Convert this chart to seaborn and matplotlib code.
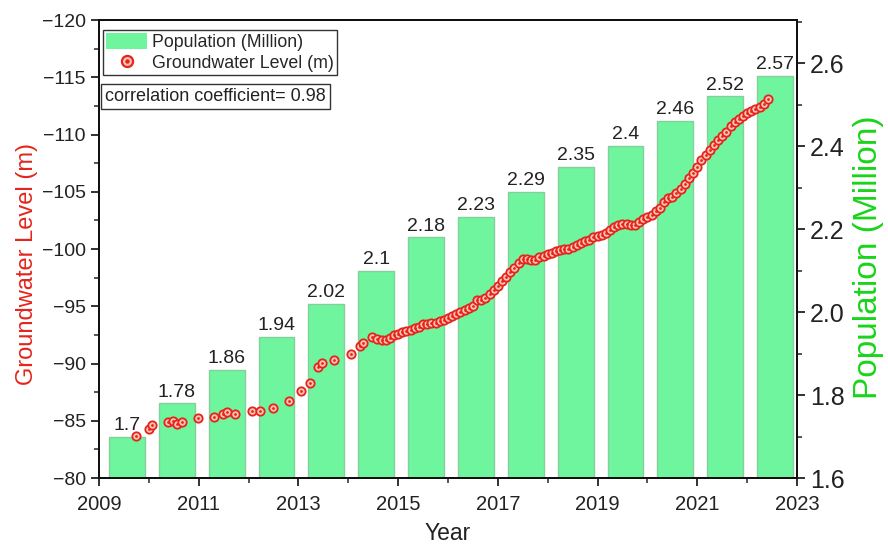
import numpy as np
import pandas as pd
import matplotlib
matplotlib.use("Agg")
import matplotlib.pyplot as plt
from matplotlib.patches import Patch
from matplotlib.lines import Line2D
from matplotlib.legend_handler import HandlerTuple
from matplotlib.ticker import MultipleLocator, FixedLocator, FormatStrFormatter, FuncFormatter
import seaborn as sns

# Annual population (million), one bar per year
pop_years = [2009, 2010, 2011, 2012, 2013, 2014, 2015, 2016, 2017, 2018, 2019, 2020, 2021, 2022]
population = [1.7, 1.78, 1.86, 1.94, 2.02, 2.1, 2.18, 2.23, 2.29, 2.35, 2.4, 2.46, 2.52, 2.57]

# Early, irregular groundwater observations (decimal year, level in m)
gw_early_year = [2009.74, 2010.00, 2010.07, 2010.39, 2010.49, 2010.57, 2010.66, 2010.98,
                 2011.31, 2011.48, 2011.57, 2011.73, 2012.07, 2012.23, 2012.49, 2012.81,
                 2013.06, 2013.23, 2013.40, 2013.48, 2013.72, 2014.06, 2014.23, 2014.30,
                 2014.47, 2014.57, 2014.67]
gw_early_level = [-83.67, -84.28, -84.63, -84.86, -85.00, -84.69, -84.86, -85.24,
                  -85.33, -85.56, -85.74, -85.63, -85.81, -85.83, -86.10, -86.75,
                  -87.60, -88.27, -89.69, -90.07, -90.33, -90.83, -91.50, -91.82,
                  -92.29, -92.11, -92.03]

# Monthly groundwater levels from Oct 2014 onwards (m)
gw_monthly_start = 2014.75
gw_monthly_level = [
    -92.05, -92.23, -92.45, -92.62, -92.75, -92.86, -92.94, -93.06, -93.23, -93.45,
    -93.49, -93.51, -93.58, -93.71, -93.84, -93.97, -94.12, -94.32, -94.54, -94.67,
    -94.89, -95.02, -95.55, -95.59, -95.72, -96.03, -96.42, -96.81, -97.21, -97.55,
    -97.95, -98.30, -98.78, -99.17, -99.10, -99.06, -99.08, -99.26, -99.41, -99.56,
    -99.69, -99.83, -99.91, -99.96, -100.03, -100.15, -100.37, -100.52, -100.70, -100.83,
    -101.05, -101.11, -101.18, -101.40, -101.62, -101.88, -102.14, -102.18, -102.18, -102.14,
    -102.14, -102.36, -102.58, -102.79, -103.01, -103.32, -103.58, -104.10, -104.43, -104.54,
    -104.85, -105.24, -105.68, -106.16, -106.64, -107.16, -107.73, -108.21, -108.69, -109.08,
    -109.48, -109.87, -110.24, -110.70, -111.09, -111.35, -111.62, -111.88, -112.05, -112.23,
    -112.40, -112.66, -113.06]

year_ticks = [2009, 2011, 2013, 2015, 2017, 2019, 2021, 2023]

gw_monthly_year = gw_monthly_start + np.arange(len(gw_monthly_level)) / 12.0
gw = pd.DataFrame({
    "year": np.concatenate([gw_early_year, gw_monthly_year]),
    "level": np.concatenate([gw_early_level, gw_monthly_level]),
})
pop_df = pd.DataFrame({"pos": np.array(pop_years) + 0.56, "population": population})

sns.set_theme(style="ticks")
plt.rcParams['font.family'] = ['Liberation Sans', 'DejaVu Sans']
plt.rcParams['axes.linewidth'] = 1.4

BAR_FACE = "#6ef59e"
BAR_EDGE = "#86cf9c"
RED = "#e5241b"
GREEN = "#19d419"
INK = "#222222"

fig = plt.figure(figsize=(8.88, 5.48), dpi=100)
ax1 = fig.add_axes([0.1115, 0.1277, 0.786, 0.8358])
ax2 = ax1.twinx()

# Population bars on the right axis
sns.barplot(data=pop_df, x="pos", y="population", ax=ax2, native_scale=True,
            width=0.72, color=BAR_FACE, saturation=1, edgecolor=BAR_EDGE, linewidth=1.0)
ax2.bar_label(ax2.containers[0], labels=[f"{v:g}" for v in population],
              padding=2, fontsize=14, color=INK)

# Groundwater level markers on the left axis (drawn above the bars)
ax1.set_zorder(ax2.get_zorder() + 1)
ax1.patch.set_visible(False)
sns.scatterplot(data=gw, x="year", y="level", ax=ax1, s=36, marker="o",
                facecolor="#ffc4b6", edgecolor=RED, linewidth=1.3, zorder=3, legend=False)
sns.scatterplot(data=gw, x="year", y="level", ax=ax1, s=4, marker="o",
                color=RED, linewidth=0, zorder=4, legend=False)

# Axes ranges and ticks
ax1.set_xlim(2009, 2023)
ax1.set_ylim(-80, -120)
ax2.set_ylim(1.6, 2.704)
ax1.xaxis.set_major_locator(FixedLocator(year_ticks))
ax1.xaxis.set_minor_locator(MultipleLocator(1))
ax1.yaxis.set_major_locator(MultipleLocator(5))
ax1.yaxis.set_minor_locator(MultipleLocator(2.5))
ax2.yaxis.set_major_locator(MultipleLocator(0.2))
ax2.yaxis.set_minor_locator(MultipleLocator(0.1))
ax2.yaxis.set_major_formatter(FormatStrFormatter("%.1f"))
ax1.yaxis.set_major_formatter(FuncFormatter(lambda v, p: f"\u2212{abs(v):.0f}"))

for ax in (ax1, ax2):
    ax.tick_params(axis="both", which="major", direction="out", length=6, width=1.3,
                   colors=INK)
    ax.tick_params(axis="both", which="minor", direction="out", length=3.5, width=1.1)
    for sp in ax.spines.values():
        sp.set_color("#111111")
        sp.set_linewidth(1.4)
ax1.tick_params(axis="x", labelsize=14.5, pad=6)
ax1.tick_params(axis="y", labelsize=14)
ax2.tick_params(axis="y", labelsize=18)

ax1.set_xlabel("Year", fontsize=16.5, color=INK)
ax1.xaxis.set_label_coords(0.5, -0.095)
ax1.set_ylabel("Groundwater Level (m)", fontsize=17, color=RED)
ax1.yaxis.set_label_coords(-0.087, 0.467)
ax2.set_ylabel("Population (Million)", fontsize=24, color=GREEN)
ax2.yaxis.set_label_coords(1.08, 0.483)
ax2.set_xlabel("")

# Legend and correlation note
h_pop = Patch(facecolor=BAR_FACE, edgecolor="none")
h_gw = (Line2D([], [], marker="o", linestyle="none", markersize=8,
               markerfacecolor="#ffc4b6", markeredgecolor=RED, markeredgewidth=1.6),
        Line2D([], [], marker="o", linestyle="none", markersize=2.2,
               markerfacecolor=RED, markeredgecolor=RED))
leg = ax1.legend([h_pop, h_gw], ["Population (Million)", "Groundwater Level (m)"],
                 handler_map={tuple: HandlerTuple(ndivide=1)},
                 loc="upper left", bbox_to_anchor=(0.0015, 0.985), fontsize=12.8,
                 frameon=True, fancybox=False, edgecolor="#333333", framealpha=1,
                 handlelength=2.3, handleheight=1.0, borderpad=0.2, labelspacing=0.15,
                 handletextpad=0.25, borderaxespad=0.15)
leg.get_frame().set_linewidth(1.0)

ax1.text(0.0085, 0.834, "correlation coefficient= 0.98", transform=ax1.transAxes,
         fontsize=13, color=INK, va="center", ha="left", zorder=6,
         bbox=dict(boxstyle="square,pad=0.22", facecolor="white", edgecolor="#333333", linewidth=1.0))

fig.savefig("out.png", dpi=100)
